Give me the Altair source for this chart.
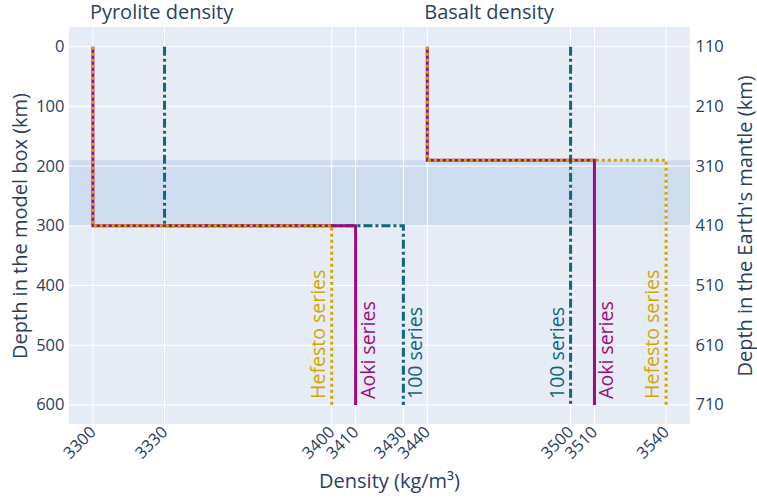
import altair as alt
import pandas as pd

# Step-like density profiles: density above and below the phase change,
# and the depth of that change in the model box (km)
rocks = ["Pyrolite", "Pyrolite", "Pyrolite", "Basalt", "Basalt", "Basalt"]
series = ["100", "Aoki", "Hefesto", "100", "Aoki", "Hefesto"]
density_top = [3330, 3300, 3300, 3500, 3440, 3440]
density_bottom = [3430, 3410, 3400, 3500, 3510, 3540]
step_depth = [300, 300, 300, 190, 190, 190]
model_bottom = 600
label_side = ["right", "right", "left", "left", "right", "left"]
label_depth = 590

panel_titles = ["Pyrolite density", "Basalt density"]
panel_title_x = [3300, 3440]

x_ticks = [3300, 3330, 3400, 3410, 3430, 3440, 3500, 3510, 3540]
y_ticks = [0, 100, 200, 300, 400, 500, 600]
mantle_offset = 110
mantle_ticks = [d + mantle_offset for d in y_ticks]
band_top, band_bottom = 190, 300

series_names = ["100", "Aoki", "Hefesto"]
series_colors = ["#0e6682", "#9e0a80", "#d4a500"]
series_dash = {"100": [9, 3, 3, 3], "Aoki": [1, 0], "Hefesto": [3, 3]}

W, H = 621, 397
x_domain = [3290, 3550]
y_domain = [-33, 632]
FONT = "Open Sans"
INK = "#2a3f5f"

rows = []
for r, s, dt, db, sd in zip(rocks, series, density_top, density_bottom, step_depth):
    pts = [(dt, 0), (dt, sd), (db, sd), (db, model_bottom)]
    for k, (dens, dep) in enumerate(pts):
        rows.append({"rock": r, "series": s, "density": dens, "depth": dep, "order": k})
profiles = pd.DataFrame(rows)

labels = pd.DataFrame({
    "rock": rocks,
    "series": series,
    "density": density_bottom,
    "depth": [label_depth] * len(rocks),
    "side": label_side,
    "text": [s + " series" for s in series],
})

xscale = alt.Scale(domain=x_domain, nice=False, zero=False)
yscale = alt.Scale(domain=y_domain, reverse=True, nice=False, zero=False)
color_scale = alt.Scale(domain=series_names, range=series_colors)

x_axis = alt.Axis(
    values=x_ticks, format="d", labelAngle=-45, labelAlign="right",
    labelBaseline="middle", labelPadding=5, labelOverlap=False, labelFlush=False,
    grid=False, domain=False, ticks=False,
    title="Density (kg/m³)", titleX=320, titleY=57,
    titleAlign="center", titleBaseline="middle",
)
y_axis = alt.Axis(
    values=y_ticks, format="d", labelPadding=5, grid=False, domain=False, ticks=False,
    title="Depth in the model box (km)", titleAngle=270, titleX=-49, titleY=H / 2,
    titleAlign="center", titleBaseline="middle",
)


def xenc(field="density:Q"):
    return alt.X(field, scale=xscale, axis=x_axis)


def yenc(field="depth:Q"):
    return alt.Y(field, scale=yscale, axis=y_axis)


# shaded depth interval
band = alt.Chart(pd.DataFrame({"top": [band_top], "bottom": [band_bottom]})).mark_rect(
    color="#cddcee"
).encode(
    y=alt.Y("top:Q", scale=yscale, axis=None),
    y2="bottom:Q",
    x=alt.value(0),
    x2=alt.value(W),
)

# horizontal grid, carrying the mantle-depth axis on the right
right_grid = alt.Chart(pd.DataFrame({"mantle": mantle_ticks})).mark_rule(
    color="white", strokeWidth=1
).encode(
    y=alt.Y(
        "mantle:Q",
        scale=alt.Scale(domain=[y_domain[0] + mantle_offset, y_domain[1] + mantle_offset],
                        reverse=True, nice=False, zero=False),
        axis=alt.Axis(
            orient="right", values=mantle_ticks, format="d", labelPadding=5,
            grid=False, domain=False, ticks=False,
            title="Depth in the Earth's mantle (km)", titleAngle=270, titleX=55,
            titleY=H / 2, titleAlign="center", titleBaseline="middle",
        ),
    ),
    x=alt.value(0),
    x2=alt.value(W),
)

# vertical grid at the density ticks
v_grid = alt.Chart(pd.DataFrame({"density": x_ticks})).mark_rule(
    color="white", strokeWidth=1
).encode(
    x=xenc(),
    y=alt.value(0),
    y2=alt.value(H),
)

line_layers = []
for i, name in enumerate(series_names):
    line_layers.append(
        alt.Chart(profiles[profiles["series"] == name]).mark_line(
            strokeWidth=3, strokeDash=series_dash[name], color=series_colors[i],
            strokeCap="butt",
        ).encode(
            x=xenc(),
            y=yenc(),
            order="order:Q",
            detail="rock:N",
        )
    )

label_layers = []
for side, offset in [("left", -13), ("right", 13)]:
    label_layers.append(
        alt.Chart(labels[labels["side"] == side]).mark_text(
            angle=270, align="left", baseline="middle", dy=offset,
            font=FONT, fontSize=19.5,
        ).encode(
            x=xenc(),
            y=yenc(),
            text="text:N",
            color=alt.Color("series:N", scale=color_scale, legend=None),
        )
    )

titles = alt.Chart(pd.DataFrame({"title": panel_titles, "density": panel_title_x})).mark_text(
    align="left", baseline="middle", dx=-3, font=FONT, fontSize=20, color=INK,
).encode(
    x=xenc(),
    y=alt.value(-14),
    text="title:N",
)

inner = alt.layer(v_grid, *line_layers, *label_layers, titles)

chart = alt.layer(band, right_grid, inner).resolve_scale(y="independent").properties(
    width=W,
    height=H,
    padding={"left": 69, "top": 27, "right": 67, "bottom": 74},
    autosize=alt.AutoSizeParams(type="none"),
    background="white",
).configure_view(
    stroke=None, fill="#e5ecf6"
).configure_axis(
    labelFont=FONT, labelFontSize=16.5, labelColor=INK,
    titleFont=FONT, titleFontSize=20, titleColor=INK, titleFontWeight="normal",
)

chart.save("out.html", embed_options={"renderer": "svg", "actions": False})
